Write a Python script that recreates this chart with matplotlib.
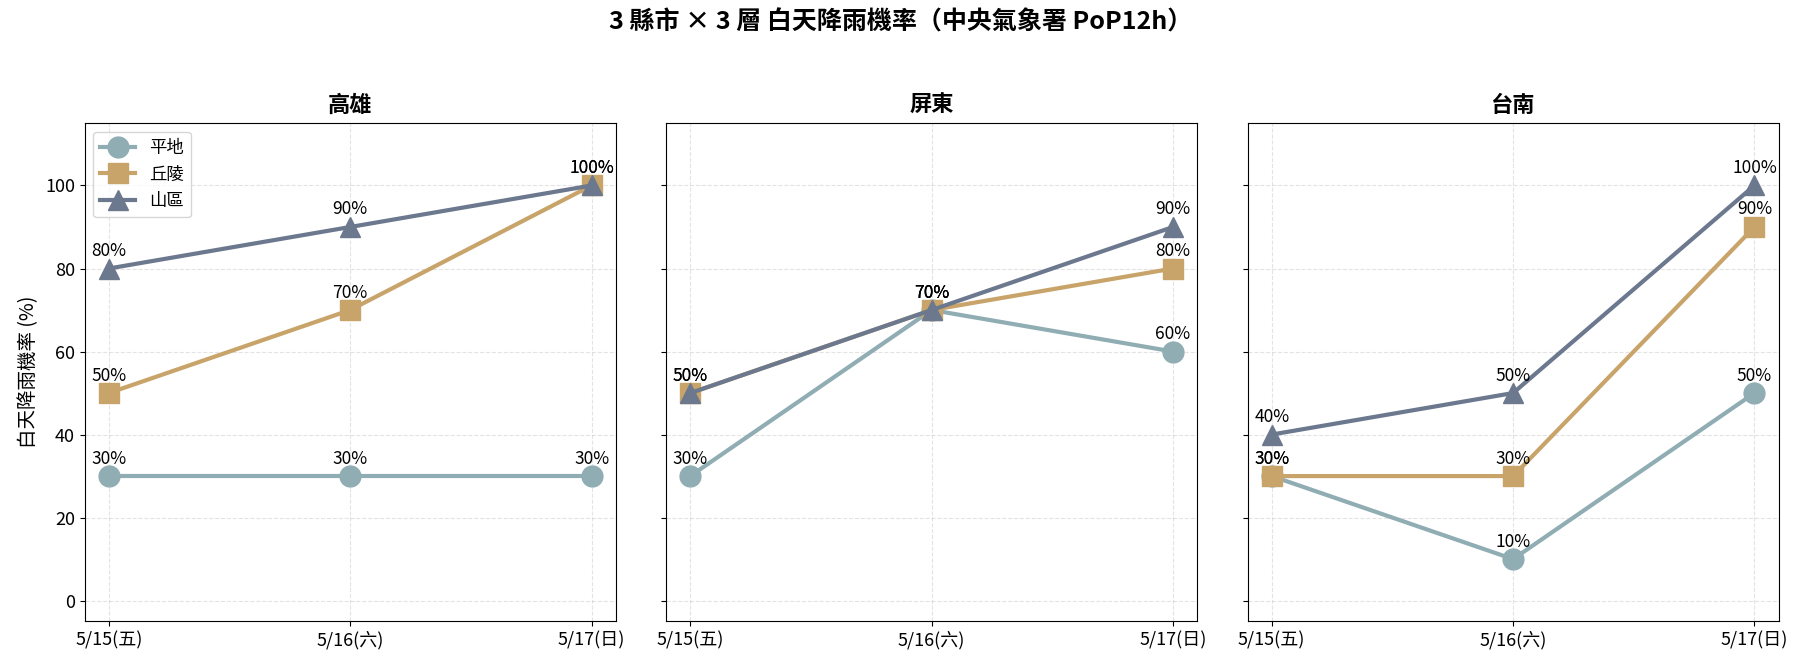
import matplotlib.pyplot as plt

plt.rcParams['font.family'] = ['Noto Sans CJK TC', 'DejaVu Sans']

days = ['5/15(五)', '5/16(六)', '5/17(日)']
cities = ['高雄', '屏東', '台南']
layers = ['平地', '丘陵', '山區']
pop = {
    '高雄': {'平地': [30, 30, 30], '丘陵': [50, 70, 100], '山區': [80, 90, 100]},
    '屏東': {'平地': [30, 70, 60], '丘陵': [50, 70, 80], '山區': [50, 70, 90]},
    '台南': {'平地': [30, 10, 50], '丘陵': [30, 30, 90], '山區': [40, 50, 100]},
}
colors = {'平地': '#8FADB3', '丘陵': '#C8A46A', '山區': '#6B788E'}
markers = {'平地': 'o', '丘陵': 's', '山區': '^'}

fig, axes = plt.subplots(1, 3, figsize=(18.02, 6.66), dpi=100, sharey=True)
fig.subplots_adjust(left=0.047, right=0.987, top=0.815, bottom=0.067, wspace=0.095)

x = list(range(len(days)))
for ax, city in zip(axes, cities):
    for layer in layers:
        vals = pop[city][layer]
        ax.plot(x, vals, color=colors[layer], marker=markers[layer], lw=3,
                markersize=15, label=layer)
        for xi, v in zip(x, vals):
            ax.annotate(f'{v}%', (xi, v), textcoords='offset points', xytext=(0, 9),
                        ha='center', fontsize=12.5)
    ax.set_title(city, fontsize=16, fontweight='bold', pad=8)
    ax.set_xticks(x)
    ax.set_xticklabels(days, fontsize=13)
    ax.tick_params(axis='y', labelsize=13)
    ax.set_ylim(-5, 115)
    ax.set_xlim(-0.1, 2.1)
    ax.grid(True, ls='--', alpha=0.35)

axes[0].set_ylabel('白天降雨機率 (%)', fontsize=14)
axes[0].legend(loc='upper left', fontsize=12.5)
fig.suptitle('3 縣市 × 3 層 白天降雨機率（中央氣象署 PoP12h）', fontsize=18, fontweight='bold', y=0.985)

plt.savefig('out.png', dpi=100)
